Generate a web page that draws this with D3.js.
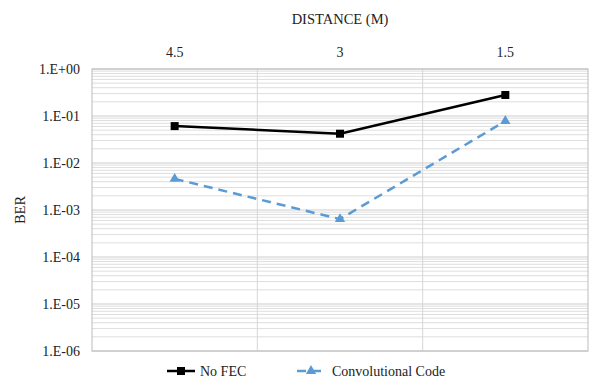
<!DOCTYPE html>
<html>
<head>
<meta charset="utf-8">
<script src="https://cdn.jsdelivr.net/npm/d3@7"></script>
<style>
  body { margin: 0; background: #fff; }
  svg { display: block; }
  text { font-family: "Liberation Serif", "DejaVu Serif", serif; fill: #222; }
</style>
</head>
<body>
<svg id="chart" width="590" height="379"></svg>
<script>
// BER vs. distance, with and without forward error correction
const distances = ["4.5", "3", "1.5"];
const noFec = [0.061, 0.042, 0.28];
const convolutional = [0.0046, 0.00064, 0.078];
const yTickValues = [1, 1e-1, 1e-2, 1e-3, 1e-4, 1e-5, 1e-6];
const yTickLabels = ["1.E+00", "1.E-01", "1.E-02", "1.E-03", "1.E-04", "1.E-05", "1.E-06"];
const seriesNames = ["No FEC", "Convolutional Code"];

const svg = d3.select("#chart");
const margin = { left: 92, right: 2, top: 69, bottom: 28 };
const W = 590, H = 379;
const x0 = margin.left, x1 = W - margin.right, y0 = margin.top, y1 = H - margin.bottom;

const x = d3.scaleBand().domain(distances).range([x0, x1]).padding(0);
const y = d3.scaleLog().domain([1e-6, 1]).range([y1, y0]);

// minor gridlines (2..9 inside each decade)
const minor = [];
for (let e = -6; e < 0; e++) for (let m = 2; m <= 9; m++) minor.push(m * Math.pow(10, e));
svg.append("g").selectAll("line").data(minor).join("line")
  .attr("x1", x0).attr("x2", x1)
  .attr("y1", d => y(d)).attr("y2", d => y(d))
  .attr("stroke", "#dedede").attr("stroke-width", 1);

// major gridlines
svg.append("g").selectAll("line").data(yTickValues).join("line")
  .attr("x1", x0).attr("x2", x1)
  .attr("y1", d => y(d)).attr("y2", d => y(d))
  .attr("stroke", "#cccccc").attr("stroke-width", 1);

// vertical category separators
svg.append("g").selectAll("line").data(distances.slice(1)).join("line")
  .attr("x1", d => x(d)).attr("x2", d => x(d))
  .attr("y1", y0).attr("y2", y1)
  .attr("stroke", "#d6d6d6").attr("stroke-width", 1);

// plot frame
svg.append("rect").attr("x", x0).attr("y", y0)
  .attr("width", x1 - x0).attr("height", y1 - y0)
  .attr("fill", "none").attr("stroke", "#bcbcbc").attr("stroke-width", 1);

// y tick labels
svg.append("g").selectAll("text").data(yTickValues).join("text")
  .attr("x", x0 - 12).attr("y", d => y(d)).attr("dy", "0.35em")
  .attr("text-anchor", "end").attr("font-size", 14)
  .text((d, i) => yTickLabels[i]);

// x tick labels (top)
svg.append("g").selectAll("text").data(distances).join("text")
  .attr("x", d => x(d) + x.bandwidth() / 2).attr("y", 57)
  .attr("text-anchor", "middle").attr("font-size", 14)
  .text(d => d);

// axis titles
svg.append("text").attr("x", (x0 + x1) / 2).attr("y", 24)
  .attr("text-anchor", "middle").attr("font-size", 14.5)
  .text("DISTANCE (M)");
svg.append("text")
  .attr("transform", `translate(25, ${(y0 + y1) / 2}) rotate(-90)`)
  .attr("text-anchor", "middle").attr("font-size", 14.5)
  .text("BER");

const cx = d => x(d) + x.bandwidth() / 2;
const line = d3.line().x(d => cx(d.k)).y(d => y(d.v));
const pts = arr => distances.map((k, i) => ({ k, v: arr[i] }));

const black = "#000000", blue = "#5b9bd5";
const tri = d3.symbol().type(d3.symbolTriangle).size(46);

// No FEC series
svg.append("path").datum(pts(noFec)).attr("d", line)
  .attr("fill", "none").attr("stroke", black).attr("stroke-width", 2.5);
svg.append("g").selectAll("rect").data(pts(noFec)).join("rect")
  .attr("x", d => cx(d.k) - 4).attr("y", d => y(d.v) - 4)
  .attr("width", 8).attr("height", 8).attr("fill", black);

// Convolutional code series
svg.append("path").datum(pts(convolutional)).attr("d", line)
  .attr("fill", "none").attr("stroke", blue).attr("stroke-width", 2.5)
  .attr("stroke-dasharray", "9,6");
svg.append("g").selectAll("path.m").data(pts(convolutional)).join("path")
  .attr("class", "m").attr("d", tri)
  .attr("transform", d => `translate(${cx(d.k)},${y(d.v)})`)
  .attr("fill", blue);

// legend
const ly = 371;
const lg = svg.append("g");
lg.append("line").attr("x1", 167).attr("x2", 195).attr("y1", ly).attr("y2", ly)
  .attr("stroke", black).attr("stroke-width", 2.5);
lg.append("rect").attr("x", 177).attr("y", ly - 4).attr("width", 8).attr("height", 8).attr("fill", black);
lg.append("text").attr("x", 200).attr("y", ly).attr("dy", "0.35em").attr("font-size", 14).text(seriesNames[0]);

lg.append("line").attr("x1", 297).attr("x2", 325).attr("y1", ly).attr("y2", ly)
  .attr("stroke", blue).attr("stroke-width", 2.5).attr("stroke-dasharray", "9,6");
lg.append("path").attr("d", tri).attr("transform", `translate(311,${ly})`).attr("fill", blue);
lg.append("text").attr("x", 332).attr("y", ly).attr("dy", "0.35em").attr("font-size", 14).text(seriesNames[1]);
</script>
</body>
</html>
